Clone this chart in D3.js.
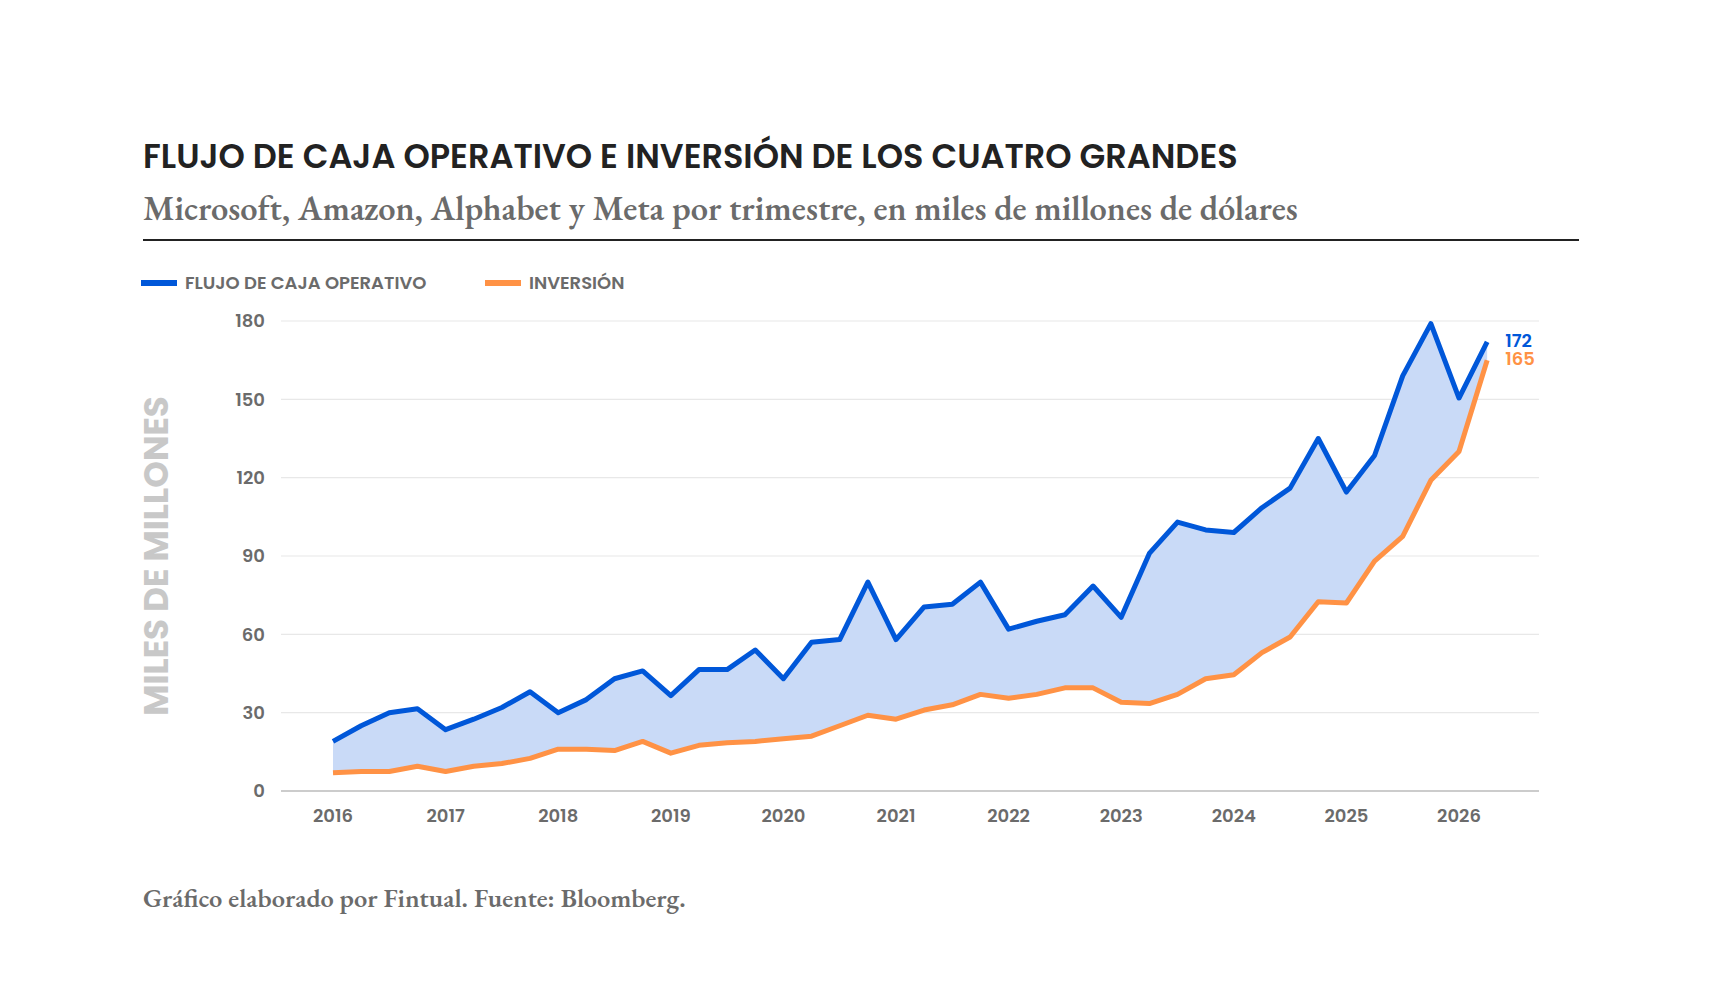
<!DOCTYPE html>
<html>
<head>
<meta charset="utf-8">
<script src="https://cdn.jsdelivr.net/npm/d3@7"></script>
<style>
  body { margin: 0; background: #fff; }
  svg { display: block; }
</style>
</head>
<body>
<svg id="chart" width="1720" height="1000"></svg>
<script>
// trimestres desde 2016 T1
const startYear = 2016;
const flujo = [19, 25, 30, 31.5, 23.5, 27.5, 32, 38, 30, 35, 43, 46, 36.5, 46.5, 46.5, 54,
  43, 57, 58, 80, 58, 70.5, 71.5, 80, 62, 65, 67.5, 78.5, 66.5, 91, 103, 100, 99, 108.5,
  116, 135, 114.5, 128.5, 159, 179, 150.5, 172];
const inversion = [7, 7.5, 7.5, 9.5, 7.5, 9.5, 10.5, 12.5, 16, 16, 15.5, 19, 14.5, 17.5, 18.5, 19,
  20, 21, 25, 29, 27.5, 31, 33, 37, 35.5, 37, 39.5, 39.5, 34, 33.5, 37, 43, 44.5, 53,
  59, 72.5, 72, 88, 97.5, 119, 130, 165];
const yTicks = [0, 30, 60, 90, 120, 150, 180];
const xTicks = [2016, 2017, 2018, 2019, 2020, 2021, 2022, 2023, 2024, 2025, 2026];

const BLUE = '#0057d9', ORANGE = '#ff9245', FILL = '#c9daf7', GREY = '#6b6b6b';
const sans = 'Poppins, Inter, "Open Sans", sans-serif';
const serif = '"EB Garamond", "Liberation Serif", serif';

const svg = d3.select('#chart');
const data = flujo.map((v, i) => ({ t: startYear + i / 4, f: v, inv: inversion[i] }));

const x = d3.scaleLinear().domain([2016, 2026]).range([333, 1459]);
const y = d3.scaleLinear().domain([0, 180]).range([791, 321]);

// títulos
svg.append('text').attr('x', 143).attr('y', 168)
  .attr('font-family', sans).attr('font-weight', 600).attr('font-size', 33.5)
  .attr('fill', '#222').text('FLUJO DE CAJA OPERATIVO E INVERSIÓN DE LOS CUATRO GRANDES');
svg.append('text').attr('x', 143).attr('y', 220)
  .attr('font-family', serif).attr('font-weight', 600).attr('font-size', 34.5)
  .attr('fill', GREY).text('Microsoft, Amazon, Alphabet y Meta por trimestre, en miles de millones de dólares');
svg.append('line').attr('x1', 143).attr('x2', 1579).attr('y1', 240).attr('y2', 240)
  .attr('stroke', '#222').attr('stroke-width', 2);

// leyenda
const legend = [
  { label: 'FLUJO DE CAJA OPERATIVO', color: BLUE, x: 141 },
  { label: 'INVERSIÓN', color: ORANGE, x: 485 }
];
legend.forEach(l => {
  svg.append('line').attr('x1', l.x).attr('x2', l.x + 36).attr('y1', 283).attr('y2', 283)
    .attr('stroke', l.color).attr('stroke-width', 6);
  svg.append('text').attr('x', l.x + 44).attr('y', 289)
    .attr('font-family', sans).attr('font-weight', 600).attr('font-size', 18)
    .attr('fill', GREY).text(l.label);
});

// grilla y eje y
const grid = svg.append('g');
yTicks.forEach(t => {
  grid.append('line').attr('x1', 281).attr('x2', 1539).attr('y1', y(t)).attr('y2', y(t))
    .attr('stroke', t === 0 ? '#bbb' : '#e8e8e8').attr('stroke-width', t === 0 ? 1.5 : 1.2);
  grid.append('text').attr('x', 265).attr('y', y(t)).attr('dy', '0.35em')
    .attr('text-anchor', 'end').attr('font-family', sans).attr('font-weight', 600)
    .attr('font-size', 18).attr('fill', GREY).text(t);
});
svg.append('text').attr('transform', `translate(168,${y(90)}) rotate(-90)`)
  .attr('text-anchor', 'middle').attr('font-family', sans).attr('font-weight', 700)
  .attr('font-size', 34).attr('fill', '#c8c8c8').text('MILES DE MILLONES');

// eje x
xTicks.forEach(t => {
  svg.append('text').attr('x', x(t)).attr('y', 822).attr('text-anchor', 'middle')
    .attr('font-family', sans).attr('font-weight', 600).attr('font-size', 18)
    .attr('fill', GREY).text(t);
});

// área entre series
svg.append('path').datum(data)
  .attr('d', d3.area().x(d => x(d.t)).y0(d => y(d.inv)).y1(d => y(d.f)))
  .attr('fill', FILL);

const line = key => d3.line().x(d => x(d.t)).y(d => y(d[key]));
svg.append('path').datum(data).attr('d', line('inv'))
  .attr('fill', 'none').attr('stroke', ORANGE).attr('stroke-width', 5).attr('stroke-linejoin', 'round');
svg.append('path').datum(data).attr('d', line('f'))
  .attr('fill', 'none').attr('stroke', BLUE).attr('stroke-width', 5).attr('stroke-linejoin', 'round');

// etiquetas finales
const last = data[data.length - 1];
svg.append('text').attr('x', x(last.t) + 18).attr('y', y(last.f) - 1).attr('dy', '0.35em')
  .attr('font-family', sans).attr('font-weight', 600).attr('font-size', 18)
  .attr('fill', BLUE).text(Math.round(last.f));
svg.append('text').attr('x', x(last.t) + 18).attr('y', y(last.f) + 17).attr('dy', '0.35em')
  .attr('font-family', sans).attr('font-weight', 600).attr('font-size', 18)
  .attr('fill', ORANGE).text(Math.round(last.inv));

// fuente
svg.append('text').attr('x', 143).attr('y', 907)
  .attr('font-family', serif).attr('font-weight', 600).attr('font-size', 26.5)
  .attr('fill', GREY).text('Gráfico elaborado por Fintual. Fuente: Bloomberg.');
</script>
</body>
</html>
